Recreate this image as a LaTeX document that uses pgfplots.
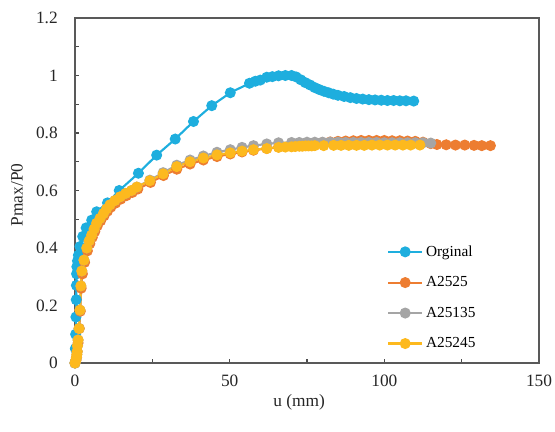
\documentclass[border=0pt]{standalone}
\usepackage{pgfplots}
\pgfplotsset{compat=1.18}
\usepackage{fontspec}
\setmainfont{Liberation Serif}

\definecolor{cblue}{RGB}{30,174,222}
\definecolor{corange}{RGB}{237,125,49}
\definecolor{cgray}{RGB}{165,165,165}
\definecolor{cyellow}{RGB}{253,185,30}

\begin{document}
\begin{tikzpicture}
\begin{axis}[
    name=ax,
    scale only axis,
    width=348pt, height=258.75pt,
    xmin=0, xmax=150, ymin=0, ymax=1.2,
    xtick={0,50,100,150},
    minor xtick={25,75,125},
    ytick={0,0.2,0.4,0.6,0.8,1,1.2},
    minor ytick={0.1,0.3,0.5,0.7,0.9,1.1},
    yticklabels={0,0.2,0.4,0.6,0.8,1,1.2},
    xtick pos=bottom, ytick pos=left,
    tick align=inside,
    major tick length=3pt, minor tick length=3pt,
    tick style={black!70, line width=0.8pt},
    axis line style={black!65, line width=1pt},
    /pgf/number format/assume math mode=true,
    tick label style={font=\fontsize{13}{15}\selectfont, text=black!85},
    yticklabel style={anchor=east, inner sep=0pt, xshift=-12.75pt},
    xticklabel style={anchor=north, inner sep=0pt, yshift=-9pt},
    xlabel={u (mm)},
    ylabel={Pmax/P0},
    label style={font=\fontsize{13}{15}\selectfont, text=black!85},
    xlabel style={at={(axis description cs:0.483,-0.113)}, anchor=center},
    ylabel style={at={(axis description cs:-0.125,0.487)}, anchor=center},
    every axis plot/.append style={line width=1.6pt, mark=*, mark size=3.3pt},
    legend style={draw=none, fill=none, font=\fontsize{11.5}{13}\selectfont,
        at={(axis description cs:0.672,0.349)}, anchor=north west,
        row sep=9.75pt, inner sep=0pt, nodes={inner sep=2pt}},
    legend cell align=left,
    legend image code/.code={\draw[mark repeat=2,mark phase=2] plot coordinates {(0cm,0cm)(0.45cm,0cm)(0.9cm,0cm)};},
]
\addplot[color=cblue, mark options={fill=cblue}] coordinates {
(0,0)(0.1,0.05)(0.2,0.1)(0.3,0.16)(0.4,0.22)(0.45,0.27)(0.5,0.31)(0.6,0.335)(0.8,0.355)(1.1,0.375)(1.6,0.405)(2.5,0.44)(3.6,0.47)(5.4,0.497)(7.0,0.526)(10.5,0.557)(14.3,0.60)(20.5,0.66)(26.4,0.723)(32.4,0.779)(38.3,0.84)(44.2,0.895)(50.2,0.94)(56.4,0.973)(58.3,0.98)(59.9,0.984)(62.0,0.994)(63.8,0.996)(65.8,0.999)(68,1.0)(70,1.0)(71.5,0.995)(73,0.985)(74.5,0.975)(76,0.967)(77.5,0.958)(79,0.951)(80.5,0.945)(82,0.94)(83.5,0.935)(85,0.931)(87,0.927)(89,0.923)(91,0.92)(93,0.918)(95,0.916)(97,0.915)(99,0.914)(101,0.913)(103,0.913)(105,0.912)(107,0.912)(109.5,0.911)
};
\addlegendentry{Orginal}
\addplot[color=corange, mark options={fill=corange}] coordinates {
(0,0)(0.3,0.01)(0.5,0.02)(0.7,0.04)(1.0,0.07)(1.4,0.12)(1.7,0.18)(2.0,0.26)(2.4,0.31)(3.1,0.35)(4.0,0.39)(4.8,0.415)(5.6,0.437)(6.4,0.457)(7.2,0.477)(8.3,0.495)(9.4,0.512)(10.5,0.528)(11.6,0.542)(13.1,0.556)(14.8,0.57)(16.6,0.582)(18.5,0.593)(20.3,0.605)(24.4,0.628)(28.6,0.652)(32.9,0.674)(37.2,0.692)(41.5,0.706)(45.9,0.718)(50.2,0.727)(54,0.734)(57.7,0.74)(62,0.746)(65.8,0.751)(70,0.757)(75,0.762)(80,0.767)(82.5,0.769)(85,0.771)(87.5,0.772)(90,0.773)(92.5,0.774)(95,0.774)(97.5,0.774)(100,0.774)(102.5,0.773)(105,0.773)(107.5,0.772)(110,0.771)(112.5,0.768)(115,0.763)(117,0.76)(120,0.759)(123,0.758)(126,0.758)(129,0.757)(131.5,0.756)(134.3,0.756)
};
\addlegendentry{A2525}
\addplot[color=cgray, mark options={fill=cgray}] coordinates {
(0,0)(0.3,0.01)(0.5,0.02)(0.6,0.03)(0.7,0.04)(0.8,0.06)(1.0,0.08)(1.3,0.12)(1.6,0.184)(1.9,0.268)(2.2,0.32)(2.9,0.358)(3.8,0.40)(4.6,0.425)(5.4,0.445)(6.2,0.466)(7,0.486)(8.1,0.503)(9.2,0.52)(10.2,0.536)(11.3,0.55)(12.9,0.565)(14.6,0.578)(16.4,0.59)(18.3,0.60)(20.0,0.612)(24.2,0.636)(28.5,0.662)(32.9,0.688)(37.2,0.706)(41.5,0.72)(45.9,0.733)(50.2,0.742)(54,0.75)(57.7,0.756)(62,0.762)(65.8,0.766)(70,0.767)(72.5,0.767)(75,0.768)(77.5,0.768)(80,0.768)(82.5,0.768)(85,0.768)(87.5,0.767)(90,0.767)(92.5,0.767)(95,0.767)(97.5,0.767)(100,0.766)(102.5,0.766)(105,0.766)(107.5,0.766)(110,0.766)(112.5,0.766)(115,0.765)
};
\addlegendentry{A25135}
\addplot[color=cyellow, mark options={fill=cyellow}] coordinates {
(0,0)(0.3,0.01)(0.5,0.02)(0.6,0.03)(0.7,0.04)(0.8,0.06)(1.0,0.08)(1.3,0.12)(1.6,0.184)(1.9,0.268)(2.2,0.32)(2.9,0.358)(3.8,0.40)(4.6,0.425)(5.4,0.445)(6.2,0.466)(7,0.486)(8.1,0.503)(9.2,0.52)(10.2,0.536)(11.3,0.55)(12.9,0.565)(14.6,0.578)(16.4,0.59)(18.3,0.60)(20.0,0.612)(24.2,0.634)(28.5,0.658)(32.9,0.683)(37.2,0.70)(41.5,0.713)(45.9,0.724)(50.2,0.731)(54,0.737)(57.7,0.742)(62,0.746)(65.8,0.75)(68,0.751)(70,0.752)(71.2,0.753)(72.5,0.754)(73.5,0.754)(74.5,0.755)(75.5,0.755)(76.5,0.755)(77.5,0.756)(80.4,0.756)(83.6,0.757)(86,0.757)(88.5,0.757)(91,0.757)(93.5,0.757)(96,0.758)(98.5,0.758)(101,0.758)(103.5,0.758)(106,0.758)(108.5,0.758)(111.5,0.758)
};
\addlegendentry{A25245}
% top and right frame lines
\draw[black!65, line width=1pt] (rel axis cs:0,1) -- (rel axis cs:1,1) -- (rel axis cs:1,0);
\end{axis}
\pgfresetboundingbox
\path ([xshift=-56.25pt,yshift=-51pt]ax.south west) rectangle ([xshift=12pt,yshift=13.5pt]ax.north east);
\end{tikzpicture}
\end{document}
